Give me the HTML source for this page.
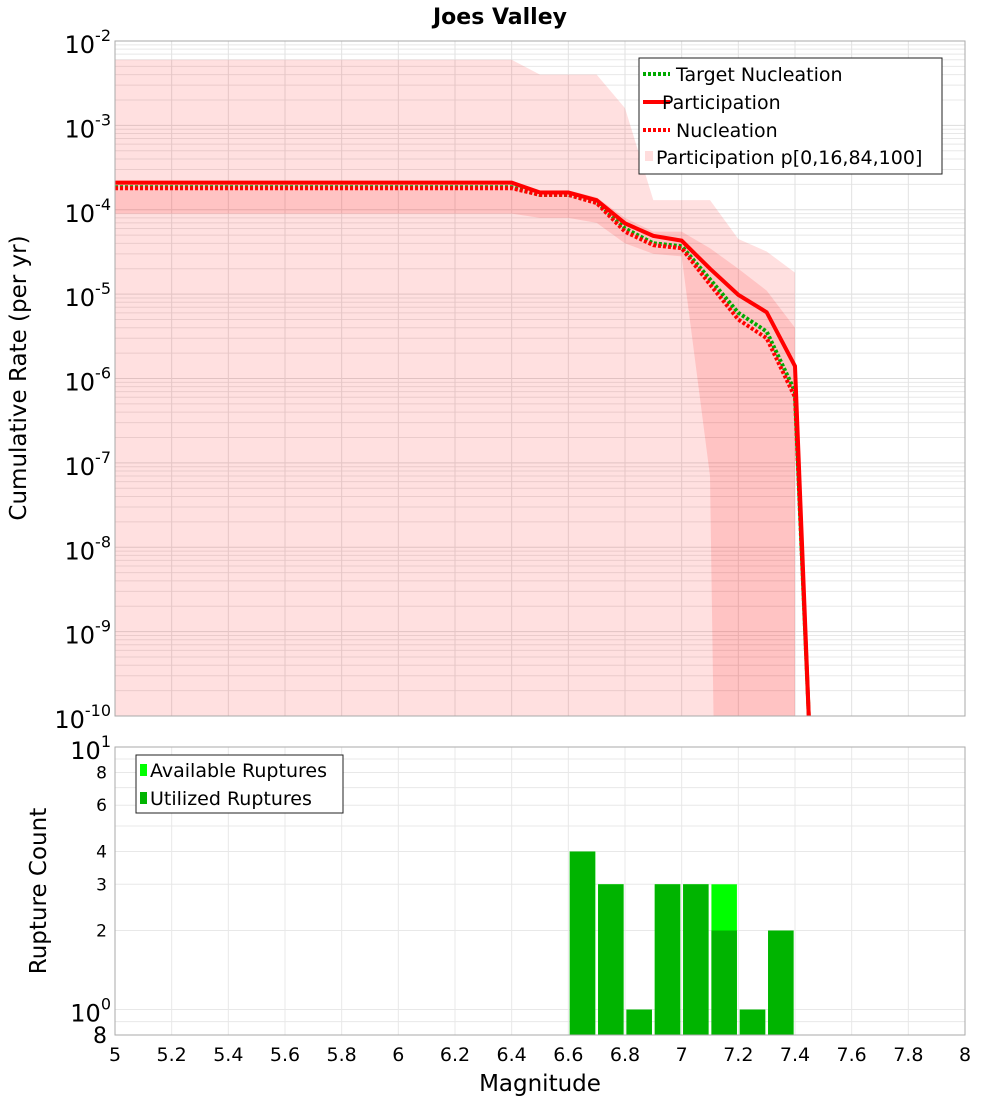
<!DOCTYPE html>
<html><head><meta charset="utf-8"><style>body{margin:0;background:#fff}svg{display:block;font-family:"DejaVu Sans","Liberation Sans",sans-serif}</style></head>
<body>
<svg id="c" width="1000" height="1100"></svg>
<script>
const mags=[5.0,5.1,5.2,5.3,5.4,5.5,5.6,5.7,5.8,5.9,6.0,6.1,6.2,6.3,6.4,6.5,6.6,6.7,6.8,6.9,7.0,7.1,7.2,7.3,7.4];
const participation=[2.1e-4,2.1e-4,2.1e-4,2.1e-4,2.1e-4,2.1e-4,2.1e-4,2.1e-4,2.1e-4,2.1e-4,2.1e-4,2.1e-4,2.1e-4,2.1e-4,2.1e-4,1.6e-4,1.6e-4,1.3e-4,6.9e-5,4.9e-5,4.3e-5,2.0e-5,9.8e-6,6.1e-6,1.4e-6];
const nucleation=[1.8e-4,1.8e-4,1.8e-4,1.8e-4,1.8e-4,1.8e-4,1.8e-4,1.8e-4,1.8e-4,1.8e-4,1.8e-4,1.8e-4,1.8e-4,1.8e-4,1.8e-4,1.5e-4,1.5e-4,1.2e-4,5.5e-5,3.8e-5,3.5e-5,1.3e-5,5e-6,3e-6,6e-7];
const targetNucleation=[1.85e-4,1.85e-4,1.85e-4,1.85e-4,1.85e-4,1.85e-4,1.85e-4,1.85e-4,1.85e-4,1.85e-4,1.85e-4,1.85e-4,1.85e-4,1.85e-4,1.85e-4,1.5e-4,1.5e-4,1.25e-4,6e-5,4e-5,3.7e-5,1.5e-5,6e-6,3.6e-6,7e-7];
const p100=[6e-3,6e-3,6e-3,6e-3,6e-3,6e-3,6e-3,6e-3,6e-3,6e-3,6e-3,6e-3,6e-3,6e-3,6e-3,4e-3,4e-3,4e-3,1.6e-3,1.3e-4,1.3e-4,1.3e-4,4.5e-5,3.2e-5,1.8e-5];
const p84=[2.1e-4,2.1e-4,2.1e-4,2.1e-4,2.1e-4,2.1e-4,2.1e-4,2.1e-4,2.1e-4,2.1e-4,2.1e-4,2.1e-4,2.1e-4,2.1e-4,2.1e-4,1.7e-4,1.7e-4,1.4e-4,8e-5,5.5e-5,5.5e-5,3.5e-5,2e-5,1.1e-5,4e-6];
const p16=[9e-5,9e-5,9e-5,9e-5,9e-5,9e-5,9e-5,9e-5,9e-5,9e-5,9e-5,9e-5,9e-5,9e-5,9e-5,8e-5,8e-5,7e-5,4e-5,3e-5,2.8e-5,7e-8,1e-30,1e-30,1e-30];
const binCenters=[6.65,6.75,6.85,6.95,7.05,7.15,7.25,7.35];
const available=[4,3,1,3,3,3,1,2];
const utilized=[4,3,1,3,3,2,1,2];
const xTicks=[5,5.2,5.4,5.6,5.8,6,6.2,6.4,6.6,6.8,7,7.2,7.4,7.6,7.8,8];

const NS='http://www.w3.org/2000/svg',svg=document.getElementById('c');
function el(t,a,p){const e=document.createElementNS(NS,t);for(const k in a)e.setAttribute(k,a[k]);(p||svg).appendChild(e);return e;}
const L=115,R=965,T1=41,B1=716,T2=747,B2=1035;
const X=m=>L+(m-5)/3*(R-L);
const Y1=v=>{let l=Math.log10(v);return T1+(-2-l)/8*(B1-T1);};
const lmin2=Math.log10(0.8);
const Y2=v=>T2+(1-Math.log10(v))/(1-lmin2)*(B2-T2);
const clip=el('clipPath',{id:'cp1'});el('rect',{x:L,y:T1,width:R-L,height:B1-T1},clip);

const g1=el('g',{});
for(let d=-10;d<-2;d++)for(let k=1;k<10;k++){const y=Y1(k*Math.pow(10,d));el('line',{x1:L,x2:R,y1:y,y2:y,stroke:k==1?'#ddd':'#e8e8e8','stroke-width':1},g1);}
xTicks.forEach(m=>el('line',{x1:X(m),x2:X(m),y1:T1,y2:B1,stroke:'#e2e2e2'},g1));
function band(up,lo,name,col){let d='';mags.forEach((m,i)=>{d+=(i?'L':'M')+X(m)+','+Y1(up[i]);});
for(let i=mags.length-1;i>=0;i--)d+='L'+X(mags[i])+','+Math.min(Y1(lo[i]),B1+2000);d+='Z';
const p=el('path',{d:d,fill:col,'clip-path':'url(#cp1)'});}
band(p100,mags.map(()=>1e-30),'band-p0-p100','rgba(255,0,0,0.12)');
band(p84,p16,'band-p16-p84','rgba(255,0,0,0.13)');
function line(vals,name,col,dash){let d='';mags.forEach((m,i)=>{d+=(i?'L':'M')+X(m)+','+Y1(vals[i]);});d+='L'+X(7.45)+','+(B1+10);
const p=el('path',{d:d,fill:'none',stroke:col,'stroke-width':4,'stroke-dasharray':dash||'none','clip-path':'url(#cp1)'});}
line(targetNucleation,'target-nucleation-line','#00aa00','3,2');
line(nucleation,'nucleation-line','#ff0000','3,2');
line(participation,'participation-line','#ff0000');
el('rect',{x:L,y:T1,width:R-L,height:B1-T1,fill:'none',stroke:'#aaa'});
for(let d=-2;d>=-10;d--){const y=Y1(Math.pow(10,d));const t=el('text',{x:L-4,y:y+12,'text-anchor':'end','font-size':24});t.innerHTML='10<tspan dy="-12" font-size="16">'+d+'</tspan>';}
const tt=el('text',{x:500,y:24,'text-anchor':'middle','font-size':22,'font-weight':'bold'});tt.textContent='Joes Valley';
const yl=el('text',{x:0,y:0,'text-anchor':'middle','font-size':23,transform:'translate(26,378) rotate(-90)'});yl.textContent='Cumulative Rate (per yr)';
const lg=el('g',{});
el('rect',{x:639,y:58,width:303,height:116,fill:'#fff',stroke:'#222'},lg);
[['Target Nucleation','#00aa00','3,2',74],['Participation','#ff0000','none',102],['Nucleation','#ff0000','3,2',130]].forEach(a=>{el('line',{x1:643,x2:670,y1:a[3],y2:a[3],stroke:a[1],'stroke-width':4,'stroke-dasharray':a[2]},lg);const t=el('text',{x:a[2]=='none'?662:676,y:a[3]+7,'font-size':19},lg);t.textContent=a[0];});
el('rect',{x:645,y:151,width:8,height:10,fill:'#fdd'},lg);
const t4=el('text',{x:656,y:164,'font-size':19},lg);t4.textContent='Participation p[0,16,84,100]';

const g2=el('g',{});
[0.8,0.9,1,2,3,4,5,6,7,8,9,10].forEach(v=>el('line',{x1:L,x2:R,y1:Y2(v),y2:Y2(v),stroke:'#e8e8e8'},g2));
xTicks.forEach(m=>el('line',{x1:X(m),x2:X(m),y1:T2,y2:B2,stroke:'#e8e8e8'},g2));
const bw=(X(0.09)-X(0));
binCenters.forEach((c,i)=>{
 const a=el('rect',{x:X(c)-bw/2,y:Y2(available[i]),width:bw,height:B2-Y2(available[i]),fill:'#00ff00'});
 const u=el('rect',{x:X(c)-bw/2,y:Y2(utilized[i]),width:bw,height:B2-Y2(utilized[i]),fill:'#00b400'});
});
el('rect',{x:L,y:T2,width:R-L,height:B2-T2,fill:'none',stroke:'#aaa'});
[[2,'2'],[3,'3'],[4,'4'],[6,'6'],[8,'8']].forEach(a=>{const t=el('text',{x:L-8,y:Y2(a[0])+6,'text-anchor':'end','font-size':17});t.textContent=a[1];});
[[10,'1'],[1,'0']].forEach(a=>{const t=el('text',{x:L-4,y:Y2(a[0])+12,'text-anchor':'end','font-size':24});t.innerHTML='10<tspan dy="-12" font-size="16">'+a[1]+'</tspan>';});
const t8=el('text',{x:L-8,y:B2+8,'text-anchor':'end','font-size':22});t8.textContent='8';
const yl2=el('text',{x:0,y:0,'text-anchor':'middle','font-size':23,transform:'translate(46,891) rotate(-90)'});yl2.textContent='Rupture Count';
xTicks.forEach(m=>{const t=el('text',{x:X(m),y:1061,'text-anchor':'middle','font-size':19});t.textContent=String(m);});
const xl=el('text',{x:540,y:1091,'text-anchor':'middle','font-size':23});xl.textContent='Magnitude';
const lg2=el('g',{});
el('rect',{x:136,y:755,width:207,height:58,fill:'#fff',stroke:'#222'},lg2);
el('rect',{x:140,y:764,width:7,height:12,fill:'#00ff00'},lg2);el('rect',{x:140,y:792,width:7,height:12,fill:'#00b400'},lg2);
const a1=el('text',{x:150,y:777,'font-size':19},lg2);a1.textContent='Available Ruptures';
const a2=el('text',{x:150,y:805,'font-size':19},lg2);a2.textContent='Utilized Ruptures';
</script>
</body></html>
